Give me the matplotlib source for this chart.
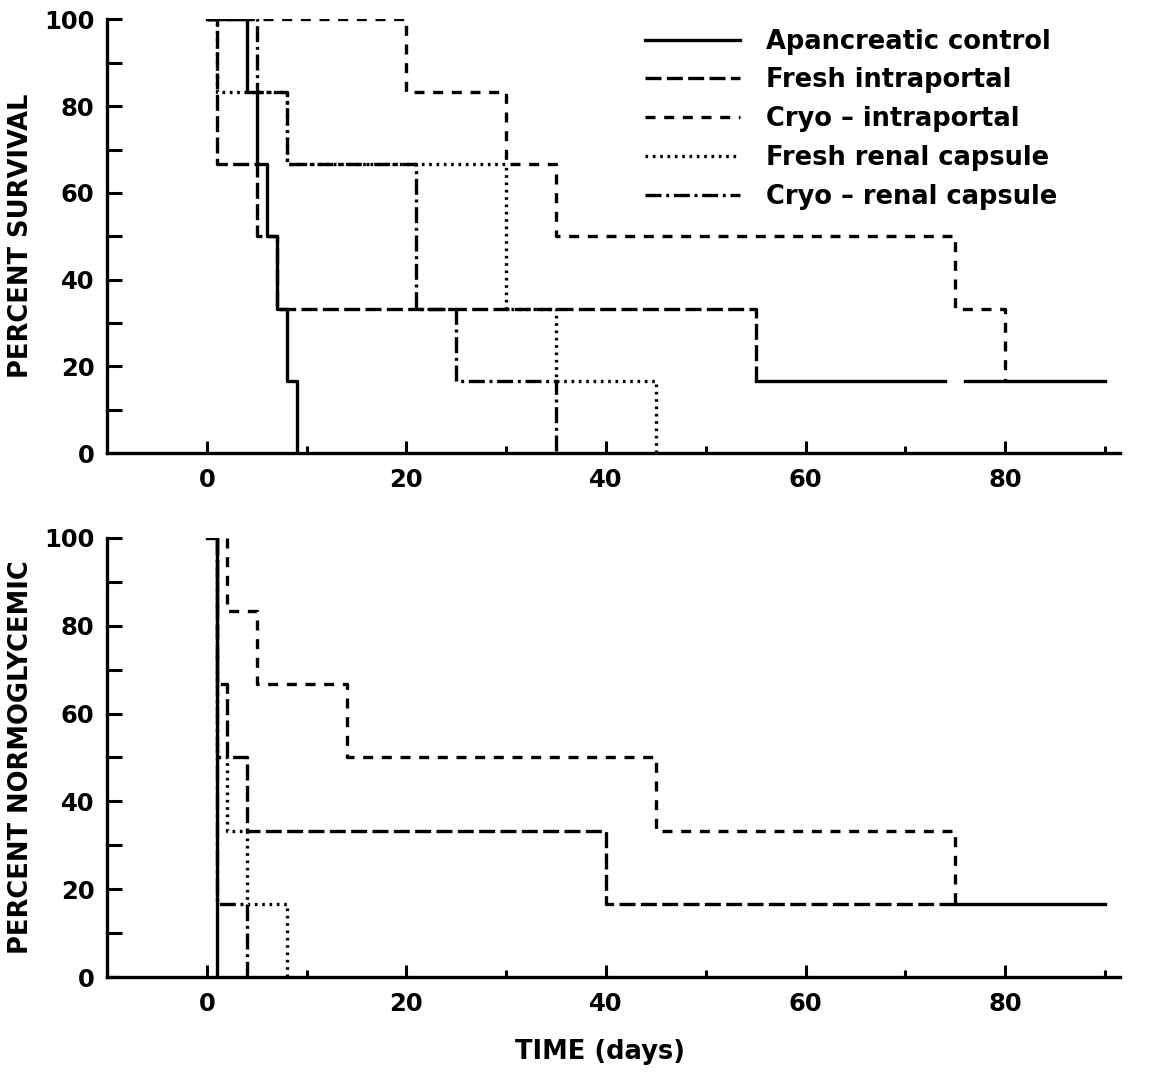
import matplotlib.pyplot as plt

plt.rcParams['font.family'] = ['DejaVu Sans']
plt.rcParams['font.weight'] = 'bold'

# skupiny (legenda)
skupiny = ["Apancreatic control", "Fresh intraportal", "Cryo \u2013 intraportal",
           "Fresh renal capsule", "Cryo \u2013 renal capsule"]

# --- horni graf: prezivani (den umrti -> procento po umrti) ---
prez_start = [0, 0, 0, 0, 0]
prez_dny = [
    [4, 5, 6, 7, 8, 9],
    [1, 5, 7, 55],
    [20, 30, 35, 75, 80],
    [1, 8, 30, 35, 45],
    [5, 8, 21, 25, 35],
]
prez_pct = [
    [83.3, 66.7, 50, 33.3, 16.7, 0],
    [66.7, 50, 33.3, 16.7],
    [83.3, 66.7, 50, 33.3, 16.7],
    [83.3, 66.7, 33.3, 16.7, 0],
    [83.3, 66.7, 33.3, 16.7, 0],
]
prez_konec = [None, None, 80, None, None]
# konec sledovani (plna cara na 16.7 %)
prez_chvost = [(55, 74), (76, 90)]
prez_chvost_pct = 16.7

# --- dolni graf: normoglykemie ---
norm_start = [0, 1, 2, 1, 1]
norm_dny = [
    [1],
    [1, 2, 4, 40],
    [2, 5, 14, 45, 75],
    [1, 2, 4, 8],
    [1, 4],
]
norm_pct = [
    [0],
    [66.7, 50, 33.3, 16.7],
    [83.3, 66.7, 50, 33.3, 16.7],
    [50, 33.3, 16.7, 0],
    [16.7, 0],
]
norm_konec = [None, 75, None, None, None]
norm_chvost = [(75, 90)]
norm_chvost_pct = 16.7

styly = ['-', (0, (4.8, 1.6)), (0, (3, 2.6)), (0, (0.8, 1.4)), (0, (4.8, 1.4, 0.9, 1.4))]
lw = 2.4


def schody(start, dny, pct, konec=None):
    x = [start]
    y = [100]
    for d, p in zip(dny, pct):
        x += [d, d]
        y += [y[-1], p]
    if konec is not None:
        x.append(konec)
        y.append(y[-1])
    return x, y


def uprav_osu(ax, ylabel):
    ax.set_xlim(-10, 91.5)
    ax.set_ylim(0, 100)
    for s in ['top', 'right']:
        ax.spines[s].set_visible(False)
    for s in ['left', 'bottom']:
        ax.spines[s].set_linewidth(2.4)
    ax.set_xticks([0, 20, 40, 60, 80])
    ax.set_xticks([10, 30, 50, 70, 90], minor=True)
    ax.set_yticks([0, 20, 40, 60, 80, 100])
    ax.set_yticks([10, 30, 50, 70, 90], minor=True)
    ax.tick_params(axis='x', which='major', direction='in', length=9, width=2.2,
                   labelsize=17.5, pad=11)
    ax.tick_params(axis='x', which='minor', direction='in', length=5, width=2.2)
    ax.tick_params(axis='y', which='both', direction='in', length=11, width=2.2,
                   labelsize=17.5, pad=9)
    ax.set_ylabel(ylabel, fontsize=18.5, fontweight='bold')
    ax.yaxis.set_label_coords(-0.072, 0.5)


fig = plt.figure(figsize=(11.51, 10.79), dpi=100)
ax1 = fig.add_axes([0.093, 0.580, 0.880, 0.402])
ax2 = fig.add_axes([0.093, 0.0945, 0.880, 0.407])

for i, nazev in enumerate(skupiny):
    x, y = schody(prez_start[i], prez_dny[i], prez_pct[i], prez_konec[i])
    ax1.plot(x, y, color='black', lw=lw, linestyle=styly[i], label=nazev)
for a, b in prez_chvost:
    ax1.plot([a, b], [prez_chvost_pct, prez_chvost_pct], color='black', lw=lw)

for i, nazev in enumerate(skupiny):
    x, y = schody(norm_start[i], norm_dny[i], norm_pct[i], norm_konec[i])
    ax2.plot(x, y, color='black', lw=lw, linestyle=styly[i])
for a, b in norm_chvost:
    ax2.plot([a, b], [norm_chvost_pct, norm_chvost_pct], color='black', lw=lw)

uprav_osu(ax1, "PERCENT SURVIVAL")
uprav_osu(ax2, "PERCENT NORMOGLYCEMIC")

ax2.set_xlabel("TIME (days)", fontsize=18.5, fontweight='bold')
ax2.xaxis.set_label_coords(0.487, -0.14)

ax1.legend(loc='upper left', bbox_to_anchor=(0.531, 0.979), frameon=False,
           fontsize=18.5, handlelength=3.7, handletextpad=1.0, labelspacing=0.5,
           borderpad=0, borderaxespad=0)

fig.savefig("out.png", dpi=100)
